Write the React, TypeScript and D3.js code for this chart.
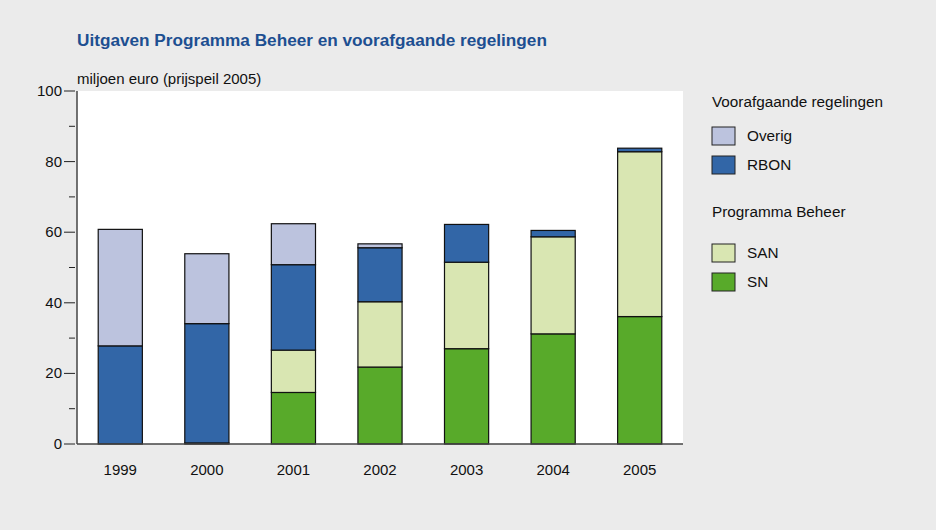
import React from 'react';
import * as d3 from 'd3';

// jaren en reeksen (miljoen euro, prijspeil 2005)
const years = ['1999', '2000', '2001', '2002', '2003', '2004', '2005'];
const sn = [0, 0.3, 14.6, 21.8, 27.0, 31.2, 36.1];
const san = [0, 0, 12.0, 18.5, 24.5, 27.5, 46.7];
const rbon = [27.8, 33.8, 24.2, 15.3, 10.7, 1.8, 1.0];
const overig = [33.0, 19.8, 11.6, 1.1, 0, 0, 0];
const yTicks = [0, 10, 20, 30, 40, 50, 60, 70, 80, 90, 100];

const seriesKeys = ['SN', 'SAN', 'RBON', 'Overig'];
const colors: Record<string, string> = {
  SN: '#58aa2a',
  SAN: '#d9e6b2',
  RBON: '#3266a7',
  Overig: '#bcc3de',
};

const legendGroups = [
  { title: 'Voorafgaande regelingen', items: ['Overig', 'RBON'] },
  { title: 'Programma Beheer', items: ['SAN', 'SN'] },
];

const W = 936;
const H = 530;
const plot = { left: 77, right: 683, top: 91, bottom: 444 };

const App: React.FC = () => {
  const rows = years.map((y, i) => ({
    year: y,
    SN: sn[i],
    SAN: san[i],
    RBON: rbon[i],
    Overig: overig[i],
  }));

  const stacked = d3.stack<any>().keys(seriesKeys)(rows);

  const x = d3.scaleBand()
    .domain(years)
    .range([plot.left, plot.right])
    .paddingInner(0.49)
    .paddingOuter(0.245);

  const y = d3.scaleLinear()
    .domain([0, 100])
    .range([plot.bottom, plot.top]);

  const font = 'Liberation Sans, Arial, sans-serif';

  return (
    <svg width={W} height={H} style={{ display: 'block', position: 'absolute', left: 0, top: 0 }}>
      <rect x={0} y={0} width={W} height={H} fill="#ebebeb" />
      <rect x={plot.left} y={plot.top} width={plot.right - plot.left} height={plot.bottom - plot.top} fill="#fff" />

      <text x={77} y={46} fontFamily={font} fontSize={17.2} fontWeight="bold" fill="#1d4f91">
        Uitgaven Programma Beheer en voorafgaande regelingen
      </text>
      <text x={77} y={84} fontFamily={font} fontSize={15} fill="#111">
        miljoen euro (prijspeil 2005)
      </text>

      {/* bars */}
      {stacked.map(layer => (
        <g key={layer.key} fill={colors[layer.key]}>
          {layer.map((d, i) => {
            const h = y(d[0]) - y(d[1]);
            if (h <= 0) return null;
            return (
              <rect
                key={i}
                x={x(years[i])}
                y={y(d[1])}
                width={x.bandwidth()}
                height={h}
                stroke="#111"
                strokeWidth={1.2}
              />
            );
          })}
        </g>
      ))}

      {/* y axis */}
      <line x1={plot.left} x2={plot.left} y1={plot.top} y2={plot.bottom} stroke="#444" strokeWidth={1.5} />
      {yTicks.map(t => {
        const major = t % 20 === 0;
        return (
          <g key={t}>
            <line x1={major ? 64 : 69} x2={75} y1={y(t)} y2={y(t)} stroke="#222" strokeWidth={1} />
            {major && (
              <text x={62} y={y(t) + 5} textAnchor="end" fontFamily={font} fontSize={15} fill="#111">
                {t}
              </text>
            )}
          </g>
        );
      })}

      {/* x axis */}
      <line x1={plot.left} x2={plot.right} y1={plot.bottom} y2={plot.bottom} stroke="#444" strokeWidth={1.5} />
      {years.map(yr => (
        <text key={yr} x={(x(yr) || 0) + x.bandwidth() / 2} y={475} textAnchor="middle" fontFamily={font} fontSize={15} fill="#111">
          {yr}
        </text>
      ))}

      {/* legend */}
      {legendGroups.map((g, gi) => {
        const top = 107 + gi * 110;
        return (
          <g key={g.title}>
            <text x={712} y={top} fontFamily={font} fontSize={15.3} fill="#111">{g.title}</text>
            {g.items.map((k, ki) => {
              const sy = top + (gi === 0 ? 20 : 27) + ki * 29;
              return (
                <g key={k}>
                  <rect x={712} y={sy} width={23} height={18} fill={colors[k]} stroke="#222" strokeWidth={1} />
                  <text x={747} y={sy + 14} fontFamily={font} fontSize={15.3} fill="#111">{k}</text>
                </g>
              );
            })}
          </g>
        );
      })}
    </svg>
  );
};

export default App;
